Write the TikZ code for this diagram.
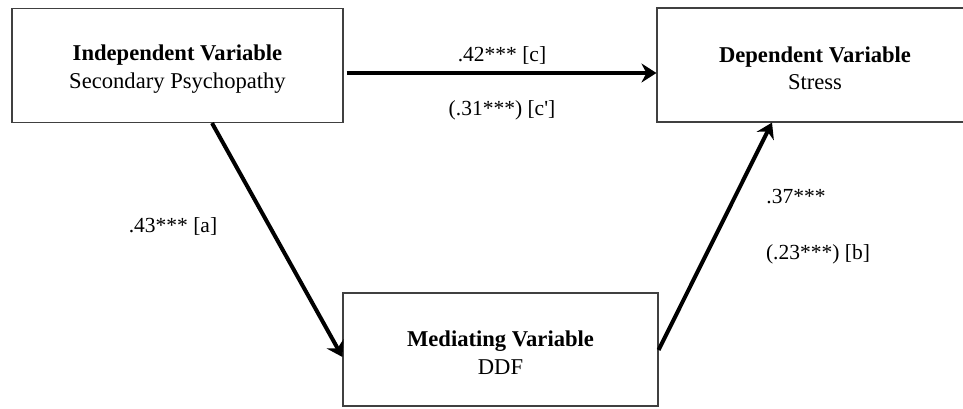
\documentclass[tikz,border=0pt]{standalone}
\usepackage{fontspec}
\setmainfont{Liberation Serif}
\usetikzlibrary{arrows.meta}
\begin{document}
\begin{tikzpicture}[x=1pt,y=-1pt,
  varbox/.style={draw=black!75,line width=1.1pt,minimum height=114pt,inner sep=0pt},
  boxtext/.style={align=center,inner sep=0pt,font=\fontsize{22.6}{27.5}\selectfont},
  lbl/.style={font=\fontsize{21.5}{26}\selectfont,inner sep=0pt},
  path/.style={line width=4pt,-{Stealth[length=15pt,width=19pt,inset=5pt]}}]
\clip (0,0) rectangle (963,408);
\node[varbox,minimum width=331pt] (L) at (177.5,65.5) {};
\node[varbox,minimum width=316pt] (R) at (815,65) {};
\node[varbox,minimum width=315pt,minimum height=113pt] (M) at (500.5,349.5) {};
\node[boxtext] (Lt) at ([yshift=-3.5pt]L.center) {\textbf{Independent Variable}\\Secondary Psychopathy};
\node[boxtext] (Rt) at ([yshift=-3.5pt]R.center) {\textbf{Dependent Variable}\\Stress};
\node[boxtext] (Mt) at ([yshift=-3pt]M.center) {\textbf{Mediating Variable}\\DDF};
\coordinate (a1) at (212,123);
\coordinate (a2) at (343,357);
\coordinate (b1) at (658,350);
\coordinate (b2) at (772,122);
\draw[path] ([xshift=3pt]L.east |- 0,73) -- (R.west |- 0,73);
\draw[path] (L.south -| a1) -- (M.west |- a2);
\draw[path] (M.east |- b1) -- (R.south -| b2);
\node[lbl] (c) at (502,55) {.42*** [c]};
\node[lbl] (cp) at (502,110) {(.31***) [c\textquotesingle]};
\node[lbl] (a) at (173,226) {.43*** [a]};
\node[lbl] (b1l) at (796,197) {.37***};
\node[lbl] (b2l) at (818,254) {(.23***) [b]};
\end{tikzpicture}
\end{document}
